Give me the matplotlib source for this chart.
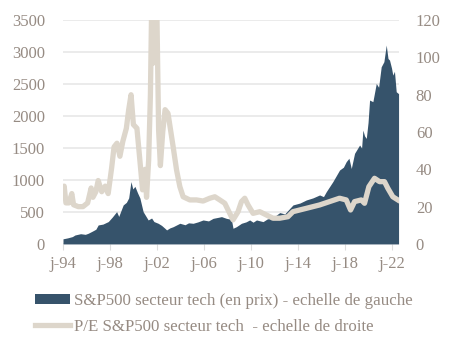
import matplotlib
matplotlib.use("Agg")
import matplotlib.pyplot as plt
from matplotlib.patches import Patch
from matplotlib.lines import Line2D

# S&P 500 technology sector, price index (left scale), decimal years
price_dates = [1994.0, 1994.4, 1994.8, 1995.02, 1995.5, 1995.9, 1996.15, 1996.5,
               1996.8, 1997.0, 1997.4, 1997.86, 1998.2, 1998.57, 1998.75, 1999.13,
               1999.4, 1999.6, 1999.79, 1999.95, 2000.13, 2000.35, 2000.55, 2000.83,
               2001.26, 2001.55, 2001.75, 2002.11, 2002.4, 2002.68, 2002.83, 2003.1,
               2003.39, 2003.96, 2004.4, 2004.7, 2005.09, 2005.5, 2005.94, 2006.4,
               2006.79, 2007.2, 2007.51, 2007.93, 2008.2, 2008.36, 2008.49, 2008.78,
               2009.21, 2009.6, 2009.91, 2010.2, 2010.49, 2011.05, 2011.4, 2011.62,
               2012.1, 2012.47, 2012.9, 2013.6, 2014.2, 2014.74, 2015.3, 2015.87,
               2016.2, 2016.44, 2017.0, 2017.57, 2017.9, 2018.14, 2018.37, 2018.57,
               2018.85, 2019.28, 2019.45, 2019.56, 2019.7, 2019.85, 2020.0, 2020.13,
               2020.41, 2020.7, 2020.9, 2021.12, 2021.35, 2021.55, 2021.7, 2021.83,
               2022.0, 2022.11, 2022.25, 2022.4, 2022.6]
price_values = [80, 95, 115, 140, 160, 150, 167, 200,
                230, 297, 310, 350, 420, 505, 430, 610,
                650, 720, 975, 860, 900, 800, 720, 505,
                375, 405, 350, 323, 290, 245, 219, 250,
                270, 323, 300, 330, 323, 345, 375, 360,
                400, 415, 427, 400, 390, 375, 245, 270,
                323, 345, 375, 340, 375, 349, 390, 400,
                440, 490, 470, 610, 640, 688, 720, 766,
                740, 818, 975, 1156, 1200, 1287, 1340, 1180,
                1417, 1547, 1500, 1780, 1690, 1650, 1900, 2250,
                2225, 2510, 2450, 2770, 2850, 3110, 2900, 2875,
                2750, 2640, 2700, 2380, 2350]

# Price / earnings ratio of the sector (right scale)
pe_dates = [1994.0, 1994.1, 1994.25, 1994.5, 1994.75, 1994.9, 1995.3, 1995.7,
            1996.1, 1996.4, 1996.55, 1996.8, 1997.0, 1997.3, 1997.6, 1997.85,
            1998.15, 1998.35, 1998.6, 1998.85, 1999.1, 1999.4, 1999.6, 1999.8,
            2000.0, 2000.3, 2000.55, 2000.78, 2001.0, 2001.12, 2001.3, 2001.45,
            2001.55, 2001.7, 2001.85, 2002.0, 2002.15, 2002.3, 2002.5, 2002.7,
            2002.95, 2003.39, 2003.68, 2003.96, 2004.24, 2004.81, 2005.38, 2005.94,
            2006.51, 2006.94, 2007.36, 2007.79, 2008.21, 2008.49, 2008.92, 2009.21,
            2009.49, 2009.77, 2010.2, 2010.77, 2011.34, 2011.9, 2012.47, 2013.17,
            2013.6, 2014.74, 2015.87, 2016.72, 2017.57, 2018.14, 2018.51, 2018.85,
            2019.42, 2019.7, 2020.07, 2020.55, 2020.98, 2021.4, 2021.69, 2022.11,
            2022.54]
pe_values = [29, 31, 22, 22, 27, 21, 20, 20,
             22, 30, 25, 28, 34, 28, 31, 27,
             41, 52, 54, 47, 55, 62, 72, 80,
             64, 62, 45, 29, 40, 25, 45, 80,
             125, 97, 130, 125, 61, 42, 60, 72,
             70, 52, 39.6, 30.7, 25.3, 23.6, 23.6, 23,
             24.5, 25.3, 23.6, 21.8, 16.4, 12.9, 17.3, 22.7,
             24.5, 20.9, 16.4, 17.3, 15.5, 13.8, 13.8, 14.6,
             17.3, 19.1, 20.9, 22.7, 24.5, 23.6, 18.2, 22.7,
             23.6, 21.8, 30.7, 35.2, 33.4, 33.4, 29.8, 25.3,
             23.6]

left_ticks = [0, 500, 1000, 1500, 2000, 2500, 3000, 3500]
right_ticks = [0, 20, 40, 60, 80, 100, 120]
year_ticks = [1994, 1998, 2002, 2006, 2010, 2014, 2018, 2022]
year_labels = ["j-94", "j-98", "j-02", "j-06", "j-10", "j-14", "j-18", "j-22"]

price_label = "S&P500 secteur tech (en prix) - echelle de gauche"
pe_label = "P/E S&P500 secteur tech  - echelle de droite"

DARK = "#36536b"
BEIGE = "#ddd6cb"
TEXT = "#968b83"
GRID = "#e9e9e9"

plt.rcParams["font.family"] = ["Liberation Serif", "DejaVu Serif"]

fig = plt.figure(figsize=(4.5, 3.47), dpi=100)
ax = fig.add_axes([0.14, 0.297, 0.747, 0.645])

ax.fill_between(price_dates, price_values, 0, color=DARK, linewidth=0, zorder=2)
ax.set_ylim(0, 3500)
ax.set_xlim(1994, 2022.65)
ax.set_yticks(left_ticks)
ax.set_yticklabels([str(t) for t in left_ticks])
ax.set_xticks(year_ticks)
ax.set_xticklabels(year_labels)
for y in left_ticks:
    ax.axhline(y, color=GRID, linewidth=1.3, zorder=0)
for s in ax.spines.values():
    s.set_visible(False)
ax.tick_params(axis="y", length=0, pad=13, labelsize=12, labelcolor=TEXT)
ax.tick_params(axis="x", length=4, width=0.8, color="#dddddd", pad=5,
               labelsize=12, labelcolor=TEXT)

ax2 = ax.twinx()
ax2.plot(pe_dates, pe_values, color=BEIGE, linewidth=3.8, solid_joinstyle="round",
         zorder=3)
ax2.set_ylim(0, 120)
ax2.set_yticks(right_ticks)
ax2.set_yticklabels([str(t) for t in right_ticks])
for s in ax2.spines.values():
    s.set_visible(False)
ax2.tick_params(axis="y", length=0, pad=12, labelsize=12, labelcolor=TEXT)

handles = [Patch(facecolor=DARK, edgecolor="none"),
           Line2D([0], [0], color=BEIGE, linewidth=3.8)]
fig.legend(handles, [price_label, pe_label], loc="upper left",
           bbox_to_anchor=(0.062, 0.175), frameon=False, fontsize=12.2,
           labelcolor=TEXT, handlelength=2.1, handleheight=0.6,
           handletextpad=0.2, labelspacing=0.58, borderaxespad=0)

fig.savefig("out.png", dpi=100)
